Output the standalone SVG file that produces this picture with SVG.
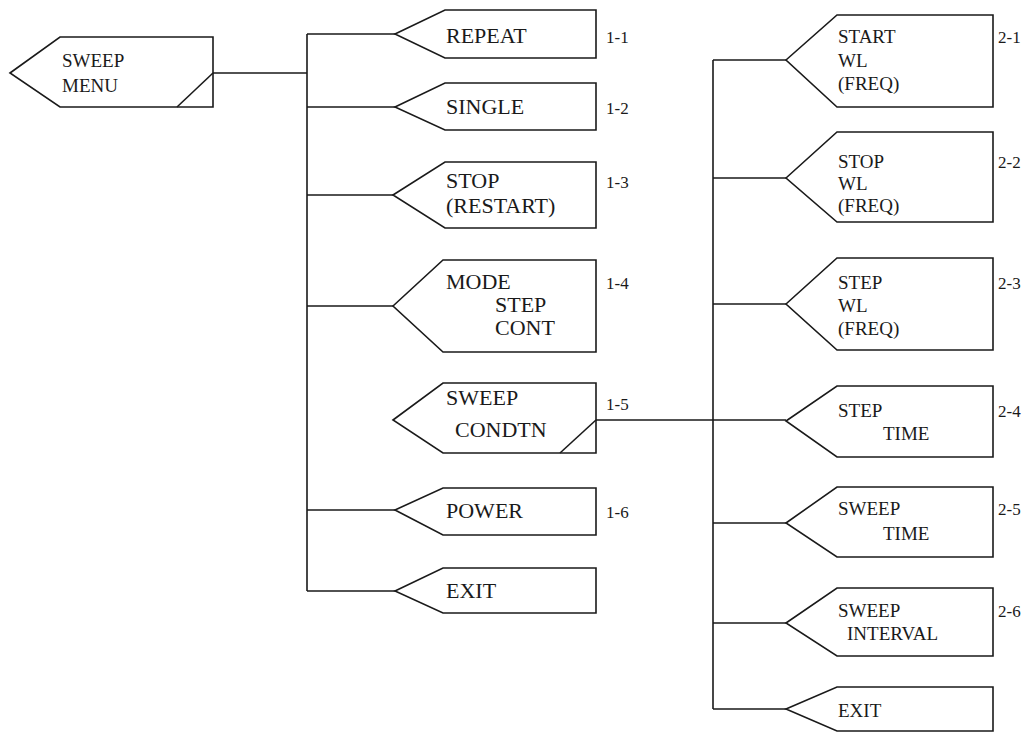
<svg xmlns="http://www.w3.org/2000/svg" width="1029" height="732" viewBox="0 0 1029 732">
<style>
.n{fill:#fff;stroke:#1a1a1a;stroke-width:1.6;stroke-linejoin:miter}
.c{fill:none;stroke:#1a1a1a;stroke-width:1.6}
text{font-family:'Liberation Serif','DejaVu Serif','Times New Roman',serif;fill:#1a1a1a}
.t1{font-size:22px}
.t2{font-size:19px}
.lb{font-size:17px}
</style>
<rect width="1029" height="732" fill="#fff"/>
<g id="connectors">
<path class="c" d="M213 73H307M307 34V591M307 34H395M307 107H395M307 195H393M307 306H393M307 510H395M307 591H395"/>
<path class="c" d="M596 420H786M713 60V709M713 60H786M713 178H786M713 304H786M713 523H786M713 623H786M713 709H786"/>
</g>
<g id="sweep-menu">
<path class="n" d="M10 73L60 37H213V107H60Z"/>
<path class="c" d="M177 107L213 73"/>
<text class="t2" x="62" y="67" font-family="Liberation Serif, serif">SWEEP</text>
<text class="t2" x="62" y="92" font-family="Liberation Serif, serif">MENU</text>
</g>
<g id="n1-1">
<path class="n" d="M395 34L445 10H596V58H445Z"/>
<text class="t1" x="446" y="43">REPEAT</text>
<text class="lb" x="606" y="43">1-1</text>
</g>
<g id="n1-2">
<path class="n" d="M395 107L445 83H596V130H445Z"/>
<text class="t1" x="446" y="114">SINGLE</text>
<text class="lb" x="606" y="114">1-2</text>
</g>
<g id="n1-3">
<path class="n" d="M393 195L445 162H596V228H445Z"/>
<text class="t1" x="446" y="188">STOP</text>
<text class="t1" x="446" y="213">(RESTART)</text>
<text class="lb" x="606" y="188">1-3</text>
</g>
<g id="n1-4">
<path class="n" d="M393 306L443 260H596V352H443Z"/>
<text class="t1" x="446" y="289">MODE</text>
<text class="t1" x="495" y="312">STEP</text>
<text class="t1" x="495" y="335">CONT</text>
<text class="lb" x="606" y="289">1-4</text>
</g>
<g id="n1-5">
<path class="n" d="M393 420L443 383H596V453H443Z"/>
<path class="c" d="M560 453L596 420"/>
<text class="t1" x="446" y="405">SWEEP</text>
<text class="t1" x="455" y="437">CONDTN</text>
<text class="lb" x="606" y="410">1-5</text>
</g>
<g id="n1-6">
<path class="n" d="M395 510L443 488H596V535H443Z"/>
<text class="t1" x="446" y="518">POWER</text>
<text class="lb" x="606" y="518">1-6</text>
</g>
<g id="n1-exit">
<path class="n" d="M395 591L443 568H596V613H443Z"/>
<text class="t1" x="446" y="598">EXIT</text>
</g>
<g id="n2-1">
<path class="n" d="M786 60L837 15H993V107H837Z"/>
<text class="t2" x="838" y="43">START</text>
<text class="t2" x="838" y="67">WL</text>
<text class="t2" x="838" y="90">(FREQ)</text>
<text class="lb" x="998" y="43">2-1</text>
</g>
<g id="n2-2">
<path class="n" d="M786 178L837 132H993V222H837Z"/>
<text class="t2" x="838" y="168">STOP</text>
<text class="t2" x="838" y="190">WL</text>
<text class="t2" x="838" y="212">(FREQ)</text>
<text class="lb" x="998" y="168">2-2</text>
</g>
<g id="n2-3">
<path class="n" d="M786 304L837 258H993V350H837Z"/>
<text class="t2" x="838" y="289">STEP</text>
<text class="t2" x="838" y="312">WL</text>
<text class="t2" x="838" y="335">(FREQ)</text>
<text class="lb" x="998" y="289">2-3</text>
</g>
<g id="n2-4">
<path class="n" d="M786 421L837 386H993V457H837Z"/>
<text class="t2" x="838" y="417">STEP</text>
<text class="t2" x="883" y="440">TIME</text>
<text class="lb" x="998" y="417">2-4</text>
</g>
<g id="n2-5">
<path class="n" d="M786 523L837 487H993V557H837Z"/>
<text class="t2" x="838" y="515">SWEEP</text>
<text class="t2" x="883" y="540">TIME</text>
<text class="lb" x="998" y="515">2-5</text>
</g>
<g id="n2-6">
<path class="n" d="M786 623L837 588H993V656H837Z"/>
<text class="t2" x="838" y="617">SWEEP</text>
<text class="t2" x="847" y="640">INTERVAL</text>
<text class="lb" x="998" y="617">2-6</text>
</g>
<g id="n2-exit">
<path class="n" d="M786 709L837 687H993V731H837Z"/>
<text class="t2" x="838" y="717">EXIT</text>
</g>
</svg>
